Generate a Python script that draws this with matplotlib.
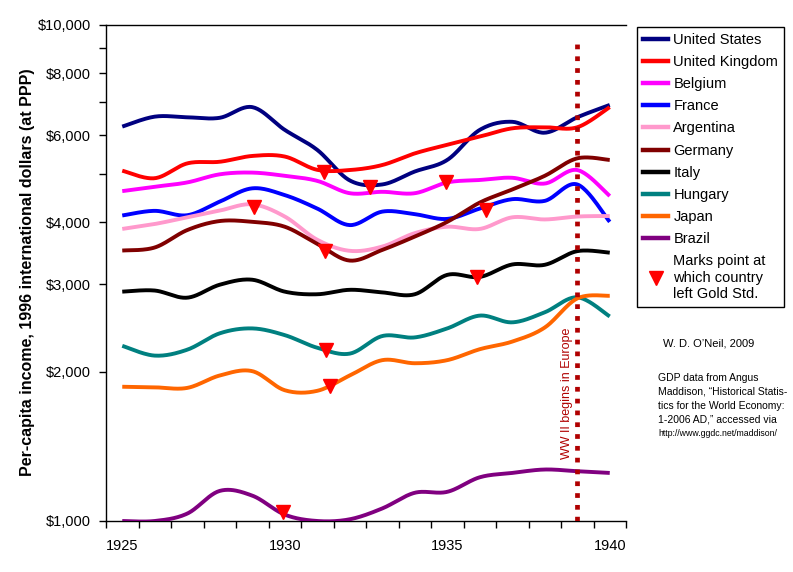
import numpy as np
import matplotlib
matplotlib.use("Agg")
import matplotlib.pyplot as plt
from matplotlib.lines import Line2D
from matplotlib.ticker import FixedLocator, NullFormatter

plt.rcParams['font.family'] = ['Liberation Sans', 'DejaVu Sans']

# per-capita GDP (1925 .. 1940)
years = list(range(1925, 1941))

united_states  = [6240, 6535, 6515, 6500, 6830, 6145, 5600, 4860, 4770, 5065, 5345, 6145, 6380, 6065, 6515, 6900]
united_kingdom = [5085, 4910, 5260, 5300, 5445, 5430, 5105, 5100, 5220, 5510, 5735, 5955, 6190, 6220, 6220, 6830]
belgium        = [4625, 4720, 4815, 5000, 5040, 4965, 4850, 4580, 4610, 4580, 4815, 4870, 4920, 4790, 5100, 4520]
france         = [4130, 4220, 4135, 4405, 4685, 4540, 4265, 3950, 4205, 4155, 4065, 4265, 4455, 4420, 4770, 4010]
argentina      = [3880, 3970, 4095, 4225, 4350, 4110, 3690, 3505, 3575, 3805, 3920, 3880, 4095, 4055, 4110, 4120]
germany        = [3510, 3560, 3860, 4025, 4010, 3920, 3620, 3350, 3520, 3745, 4010, 4385, 4660, 4965, 5385, 5345]
italy          = [2900, 2915, 2820, 2995, 3065, 2900, 2865, 2925, 2890, 2865, 3135, 3105, 3290, 3285, 3500, 3475]
hungary        = [2255, 2155, 2215, 2390, 2445, 2370, 2235, 2175, 2360, 2345, 2445, 2595, 2515, 2635, 2825, 2585]
japan          = [1865, 1860, 1855, 1965, 2005, 1835, 1830, 1965, 2110, 2080, 2110, 2220, 2300, 2455, 2810, 2845]
brazil         = [1000, 1000, 1035, 1150, 1125, 1030, 1000, 1008, 1060, 1140, 1145, 1225, 1250, 1270, 1260, 1250]

countries = ["United States", "United Kingdom", "Belgium", "France", "Argentina",
             "Germany", "Italy", "Hungary", "Japan", "Brazil"]
series = [united_states, united_kingdom, belgium, france, argentina,
          germany, italy, hungary, japan, brazil]
colors = ["#000080", "#FF0000", "#FF00FF", "#0000FF", "#FF99CC",
          "#800000", "#000000", "#008080", "#FF6600", "#800080"]

# points where each country left the gold standard (triangles)
gold_years = [1929.06, 1931.22, 1931.25, 1932.63, 1934.97, 1936.2, 1935.9, 1931.28, 1931.4, 1929.94]
gold_vals  = [4300, 5065, 3500, 4720, 4820, 4230, 3100, 2212, 1872, 1045]

ww2_year = 1939


def smooth(xs, ys, n=24):
    # Catmull-Rom through the points (in log space), like Excel's smoothed lines
    x = np.asarray(xs, float)
    y = np.log10(np.asarray(ys, float))
    xp = np.concatenate([[x[0]], x, [x[-1]]])
    yp = np.concatenate([[y[0]], y, [y[-1]]])
    out_x, out_y = [], []
    t = np.linspace(0, 1, n, endpoint=False)
    for i in range(1, len(xp) - 2):
        p0, p1, p2, p3 = [np.array([xp[j], yp[j]]) for j in (i - 1, i, i + 1, i + 2)]
        c1 = p1 + (p2 - p0) / 6
        c2 = p2 - (p3 - p1) / 6
        b = ((1 - t) ** 3)[:, None] * p1 + (3 * (1 - t) ** 2 * t)[:, None] * c1 \
            + (3 * (1 - t) * t ** 2)[:, None] * c2 + (t ** 3)[:, None] * p2
        out_x.extend(b[:, 0])
        out_y.extend(b[:, 1])
    out_x.append(x[-1])
    out_y.append(y[-1])
    return np.array(out_x), 10 ** np.array(out_y)


fig = plt.figure(figsize=(7.93, 5.72), dpi=100)
ax = fig.add_axes([106 / 793, 1 - 521 / 572, 520 / 793, 496 / 572])

handles = []
for name, vals, c in zip(countries, series, colors):
    sx, sy = smooth(years, vals)
    ax.plot(sx, sy, color=c, lw=2.8, solid_capstyle="butt", zorder=3)
    handles.append(Line2D([], [], color=c, lw=3.2, label=name))

ax.plot(gold_years, gold_vals, linestyle="none", marker="v", ms=10,
        color="#FF0000", mec="#FF0000", zorder=5)
handles.append(Line2D([], [], linestyle="none", marker="v", ms=10, color="#FF0000",
                      label="Marks point at\nwhich country\nleft Gold Std."))

ax.vlines(ww2_year, 1000, 9400, colors="#B00000", lw=3.4,
          linestyles=[(0, (1.0, 1.5))], zorder=4)
ax.text(1938.69, 1810, "WW II begins in Europe", rotation=90, ha="center",
        va="center", fontsize=9, color="#B00000")

ax.set_yscale("log")
ax.set_ylim(1000, 10000)
ax.set_xlim(1924.5, 1940.5)

ax.yaxis.set_major_locator(FixedLocator([1000, 2000, 3000, 4000, 6000, 8000, 10000]))
ax.yaxis.set_minor_locator(FixedLocator([5000, 7000, 9000]))
ax.set_yticklabels(["$1,000", "$2,000", "$3,000", "$4,000", "$6,000", "$8,000", "$10,000"])
ax.yaxis.set_minor_formatter(NullFormatter())
ax.tick_params(axis="y", which="both", direction="out", length=5, width=1,
               pad=6, labelsize=10.5)

ax.set_xticks([1925, 1930, 1935, 1940])
ax.set_xticklabels(["1925", "1930", "1935", "1940"])
ax.xaxis.set_minor_locator(FixedLocator(np.arange(1924.5, 1941, 1.0)))
ax.tick_params(axis="x", which="major", length=0, pad=13, labelsize=10.5)
ax.tick_params(axis="x", which="minor", direction="out", length=5, width=1)

ax.spines["right"].set_visible(False)
for s in ("left", "bottom", "top"):
    ax.spines[s].set_linewidth(1)

fig.text(28 / 793, 1 - 272 / 572, "Per-capita income, 1996 international dollars (at PPP)",
         rotation=90, ha="center", va="center", fontsize=11.5, fontweight="bold")

leg = fig.legend(handles=handles, loc="upper left", bbox_to_anchor=(637 / 793, 1 - 27 / 572),
                 fontsize=10.5, frameon=True, fancybox=False, edgecolor="black",
                 framealpha=1, borderaxespad=0, handlelength=1.75, handletextpad=0.35,
                 labelspacing=0.56, borderpad=0.4)
leg.get_frame().set_linewidth(1)

fig.text(709 / 793, 1 - 344 / 572, "W. D. O\u2019Neil, 2009", ha="center", va="center",
         fontsize=8)
fig.text(658 / 793, 1 - 373 / 572,
         "GDP data from Angus\nMaddison, \u201cHistorical Statis-\ntics for the World Economy:\n"
         "1-2006 AD,\u201d accessed via", ha="left", va="top", fontsize=7.5, linespacing=1.5)
fig.text(658 / 793, 1 - 434 / 572, "http://www.ggdc.net/maddison/", ha="left", va="center",
         fontsize=6.3)

fig.savefig("out.png", dpi=100)
